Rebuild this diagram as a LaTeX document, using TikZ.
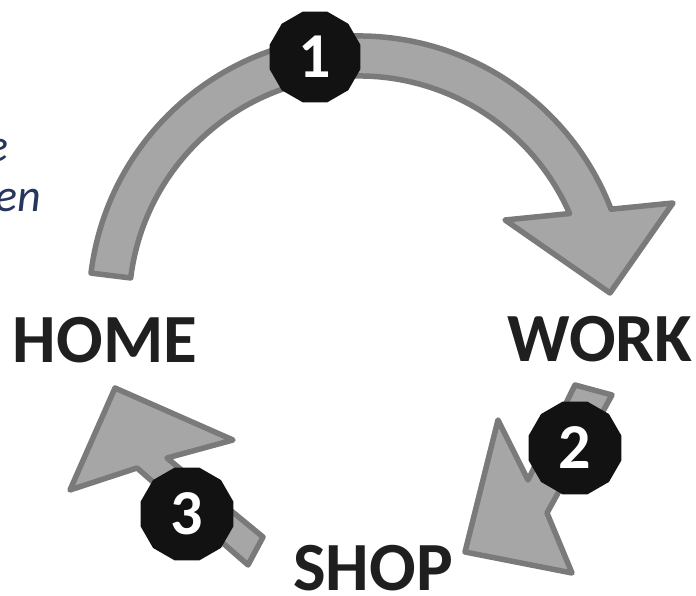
\documentclass[tikz,border=0pt]{standalone}
\usepackage{fontspec}
\setmainfont{Carlito}
\usepackage{xcolor}
\usepackage{tikz}
\usetikzlibrary{shapes.geometric,calc}
\definecolor{arrowfill}{RGB}{166,166,166}
\definecolor{arrowline}{RGB}{122,122,122}
\definecolor{notecol}{RGB}{38,54,92}

\begin{document}
\begin{tikzpicture}[
  x=1pt, y=1pt,
  place/.style={font=\fontsize{69}{80}\selectfont\bfseries, text=black!88,
    inner sep=0pt, anchor=base},
  badge/.style={regular polygon, regular polygon sides=12, fill=black!93,
    text=white, minimum size=94pt, inner sep=0pt,
    font=\fontsize{64}{70}\selectfont\bfseries},
  blockarrow/.style={fill=arrowfill, draw=arrowline, line width=5.5pt,
    line join=round},
  note/.style={font=\fontsize{46}{50}\selectfont\itshape, text=notecol,
    inner sep=0pt, anchor=base east},
]
% Frame
\clip (0,0) rectangle (696,596);

% Cut-off note text
\node[note] (noteA) at (9,434) {e};
\node[note] (noteB) at (41,384) {en};

% Arrow 1 -- big arc from HOME to WORK
\coordinate (hub) at (359,290);
\path[blockarrow] ([shift={(173:270pt)}]hub)
  arc[start angle=173, end angle=21, radius=270pt]
  -- (673,393) -- (610,303) -- (505,376)
  -- ([shift={(23.7:230pt)}]hub)
  arc[start angle=23.7, end angle=173, radius=230pt] -- cycle;

% Arrow 2 -- WORK to SHOP
\path[blockarrow] (575,211) -- (612,201) -- (547,83) -- (572,23)
  -- (465,44) -- (498,176) -- (528,116) -- cycle;

% Arrow 3 -- SHOP to HOME
\path[blockarrow] (115,208) -- (233,156) -- (167,138) -- (263,59)
  -- (248,31) -- (137,128) -- (70,106) -- cycle;

% Step numbers
\node[badge] (num1) at (315,539) {1};
\node[badge, minimum size=96pt] (num2) at (575,148) {2};
\node[badge, minimum size=96pt] (num3) at (187,82) {3};

% Places
\node[place] (home) at (105,233) {HOME};
\node[place] (work) at (600,234) {WORK};
\node[place] (shop) at (373,5) {SHOP};
\end{tikzpicture}
\end{document}
